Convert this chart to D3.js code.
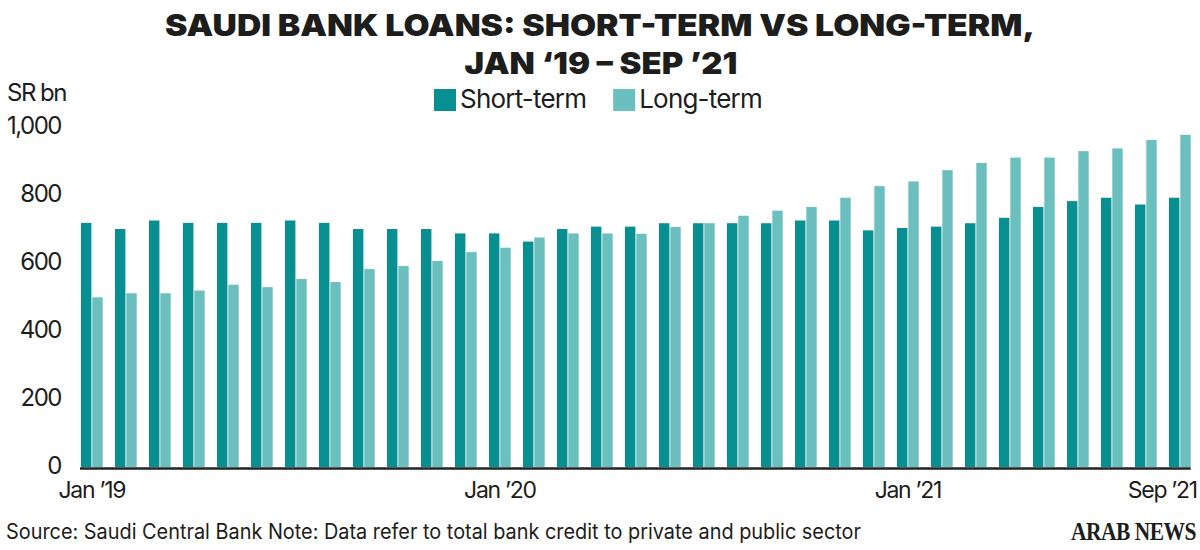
<!DOCTYPE html>
<html>
<head>
<meta charset="utf-8">
<script src="https://cdn.jsdelivr.net/npm/d3@7"></script>
<style>
  body { margin: 0; background: #fff; }
  svg text { font-family: Inter, "Noto Sans", sans-serif; fill: #1d1d1b; }
</style>
</head>
<body>
<div id="chart"></div>
<script>
// monthly loans, SR bn
const months = ["2019-01","2019-02","2019-03","2019-04","2019-05","2019-06","2019-07","2019-08","2019-09","2019-10","2019-11","2019-12",
                "2020-01","2020-02","2020-03","2020-04","2020-05","2020-06","2020-07","2020-08","2020-09","2020-10","2020-11","2020-12",
                "2021-01","2021-02","2021-03","2021-04","2021-05","2021-06","2021-07","2021-08","2021-09"];
const shortTerm = [718,700,725,718,718,718,725,718,700,700,700,687,
                   687,663,700,707,707,717,717,717,717,725,725,696,
                   703,707,717,733,765,782,792,772,792];
const longTerm = [499,511,511,519,536,529,553,544,582,591,606,632,
                  645,675,687,687,686,706,717,739,754,765,792,826,
                  840,873,894,910,910,929,937,962,977];
const seriesNames = ["Short-term", "Long-term"];
const seriesColors = ["#088f91", "#6bc0bf"];
const yTicks = [0, 200, 400, 600, 800, 1000];
const xTickMonths = ["2019-01", "2020-01", "2021-01", "2021-09"];
const xTickLabels = ["Jan \u201919", "Jan \u201920", "Jan \u201921", "Sep \u201921"];

const width = 1200, height = 550;

const svg = d3.select("#chart")
              .append("svg")
              .attr("width", width)
              .attr("height", height);

const data = months.map((m, i) => ({month: m, values: [shortTerm[i], longTerm[i]]}));

const x = d3.scaleBand()
            .domain(months)
            .range([81, 1190.7])
            .paddingInner(0.362)
            .paddingOuter(0);
const x1 = d3.scaleBand()
             .domain([0, 1])
             .range([0, x.bandwidth()])
             .paddingInner(0.08);
const y = d3.scaleLinear()
            .domain([0, 1000])
            .range([467, 127]);

// title
svg.append("text")
   .attr("x", 600).attr("y", 36)
   .attr("text-anchor", "middle")
   .attr("textLength", 870).attr("lengthAdjust", "spacingAndGlyphs")
   .style("font-size", "30px").style("font-weight", 900)
   .text("SAUDI BANK LOANS: SHORT-TERM VS LONG-TERM,");
svg.append("text")
   .attr("x", 601).attr("y", 74)
   .attr("text-anchor", "middle")
   .attr("textLength", 273).attr("lengthAdjust", "spacingAndGlyphs")
   .style("font-size", "30px").style("font-weight", 900)
   .text("JAN \u201819 \u2013 SEP \u201921");

// legend
const legend = svg.append("g").attr("transform", "translate(434, 89)");
let lx = 0;
seriesNames.forEach((name, i) => {
    const g = legend.append("g").attr("transform", `translate(${lx}, 0)`);
    g.append("rect")
     .attr("width", 22).attr("height", 22)
     .attr("fill", seriesColors[i]);
    const t = g.append("text")
               .attr("x", 26).attr("y", 19)
               .style("font-size", "26px")
               .style("letter-spacing", "-0.8px")
               .text(name);
    lx += 26 + t.node().getComputedTextLength() + 27;
});

// unit label
svg.append("text")
   .attr("x", 7).attr("y", 101)
   .style("font-size", "24px")
   .style("letter-spacing", "-1.5px")
   .text("SR bn");

// y axis labels
const yAxis = d3.axisLeft(y)
                .tickValues(yTicks)
                .tickSize(0)
                .tickPadding(0)
                .tickFormat(d3.format(","));
svg.append("g")
   .attr("class", "axis y-axis")
   .attr("transform", "translate(61, -1)")
   .call(yAxis)
   .call(g => g.select(".domain").remove())
   .selectAll("text")
   .style("font-family", "Inter, 'Noto Sans', sans-serif")
   .style("font-size", "24px")
   .style("letter-spacing", "-1.5px")
   .attr("fill", "#1d1d1b");

// bars
const groups = svg.selectAll("g.month")
                  .data(data)
                  .enter()
                  .append("g")
                  .attr("class", "month")
                  .attr("transform", d => `translate(${x(d.month)}, 0)`);
groups.selectAll("rect")
      .data(d => d.values)
      .enter()
      .append("rect")
      .attr("x", (d, i) => x1(i))
      .attr("width", x1.bandwidth())
      .attr("y", d => y(d))
      .attr("height", d => y(0) - y(d))
      .attr("fill", (d, i) => seriesColors[i]);

// baseline
svg.append("line")
   .attr("x1", x.range()[0] - 1).attr("x2", x.range()[1])
   .attr("y1", y(0) + 1.5).attr("y2", y(0) + 1.5)
   .attr("stroke", "#222").attr("stroke-width", 2.5);

// x axis labels
const xAxis = d3.axisBottom(x)
                .tickValues(xTickMonths)
                .tickSize(0)
                .tickPadding(14)
                .tickFormat((d, i) => xTickLabels[i]);
const drawX = svg.append("g")
                 .attr("class", "axis x-axis")
                 .attr("transform", `translate(0, ${y(0) + 1})`)
                 .call(xAxis)
                 .call(g => g.select(".domain").remove());
drawX.selectAll("text")
     .style("font-family", "Inter, 'Noto Sans', sans-serif")
     .style("font-size", "23px")
     .style("letter-spacing", "-1.3px")
     .attr("fill", "#1d1d1b");
drawX.selectAll(".tick")
     .filter(d => d === xTickMonths[xTickMonths.length - 1])
     .select("text")
     .attr("text-anchor", "end")
     .attr("x", 17);

// footer
svg.append("text")
   .attr("x", 6).attr("y", 539)
   .attr("textLength", 855).attr("lengthAdjust", "spacingAndGlyphs")
   .style("font-size", "21px")
   .text("Source: Saudi Central Bank Note: Data refer to total bank credit to private and public sector");
svg.append("text")
   .attr("transform", "translate(1196, 540) scale(0.86, 1)")
   .attr("text-anchor", "end")
   .style("font-family", "'Liberation Serif', 'DejaVu Serif', serif")
   .style("font-size", "25px").style("font-weight", 700)
   .style("letter-spacing", "-0.6px")
   .text("ARAB NEWS");
</script>
</body>
</html>
